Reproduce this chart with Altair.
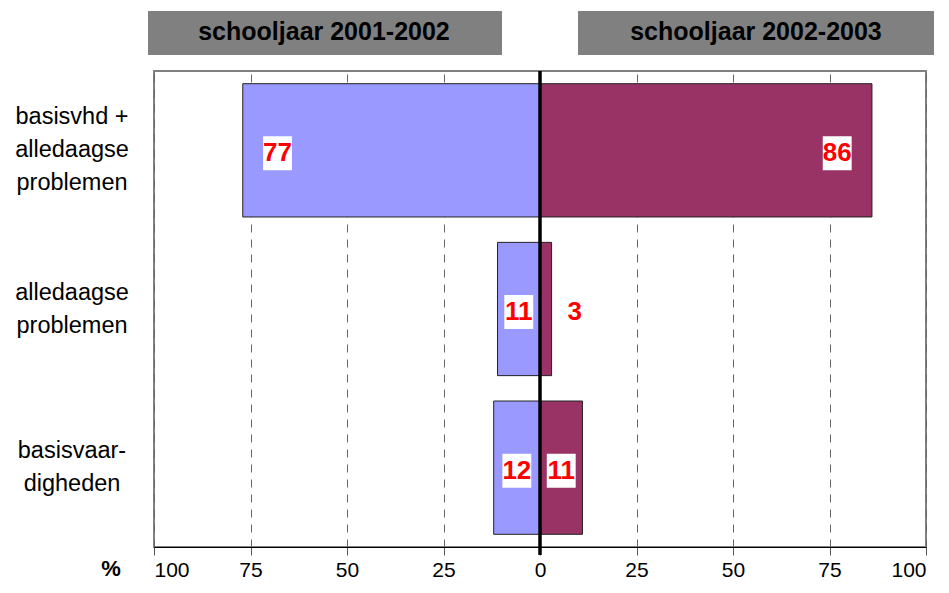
import altair as alt
import pandas as pd

categories = ["basisvhd + alledaagse problemen", "alledaagse problemen", "basisvaardigheden"]
cat_labels = ["basisvhd +|alledaagse|problemen", "alledaagse|problemen", "basisvaar-|digheden"]
years = ["schooljaar 2001-2002", "schooljaar 2002-2003"]
values_2001 = [77, 11, 12]
values_2002 = [86, 3, 11]
tick_values = [-100, -75, -50, -25, 0, 25, 50, 75, 100]
colors = ["#9999FF", "#993366"]

rows = []
for c, lab, v in zip(categories, cat_labels, values_2001):
    rows.append({"cat": c, "lab": lab, "year": years[0], "value": v, "sign": -1})
for c, lab, v in zip(categories, cat_labels, values_2002):
    rows.append({"cat": c, "lab": lab, "year": years[1], "value": v, "sign": 1})
df = pd.DataFrame(rows)

W, H = 772, 476
FONT = "Liberation Sans, Arial, sans-serif"
LINE_H = 33

xscale = alt.Scale(domain=[-100, 100], nice=False, zero=False)
yscale = alt.Scale(domain=categories, paddingInner=0.16, paddingOuter=0.08)

base = alt.Chart(df).transform_calculate(
    xs="datum.sign * datum.value",
    pos="datum.sign * (datum.value > 20 ? datum.value - 9 : (datum.value < 5 ? datum.value + 6 : datum.value / 2))",
)

bars = base.mark_bar(stroke="#222222", strokeWidth=1).encode(
    x=alt.X("xs:Q", scale=xscale,
            axis=alt.Axis(values=tick_values, labelExpr="abs(datum.value)",
                          title=None, grid=True, gridDash=[8, 7], gridColor="#666666",
                          gridWidth=1, domainColor="#000000", domainWidth=1.2,
                          tickColor="#555555", tickSize=8, tickWidth=1,
                          labelFont=FONT, labelFontSize=21,
                          labelColor="#000000", labelPadding=4)),
    x2=alt.datum(0),
    y=alt.Y("cat:N", scale=yscale, sort=categories, axis=None),
    color=alt.Color("year:N", scale=alt.Scale(domain=years, range=colors), legend=None),
)

boxes = base.mark_point(
    shape="M-0.85,-1H0.85V1H-0.85Z", filled=True, fill="white", stroke=None,
    opacity=1, size=1156, yOffset=3,
).encode(
    x=alt.X("pos:Q", scale=xscale),
    y=alt.Y("cat:N", scale=yscale, sort=categories),
)

labels = base.mark_text(
    font=FONT, fontWeight="bold", fontSize=26, color="#FF0000",
    baseline="middle", align="center", dy=3,
).encode(
    x=alt.X("pos:Q", scale=xscale),
    y=alt.Y("cat:N", scale=yscale, sort=categories),
    text="value:Q",
)

cat_df = pd.DataFrame({"cat": categories, "lab": cat_labels})
cat_df["nlines"] = cat_df["lab"].str.count(r"\|") + 1


def cat_layer(n):
    return alt.Chart(cat_df).transform_filter(alt.datum.nlines == n).mark_text(
        font=FONT, fontSize=23.5, color="#000000", align="center",
        baseline="middle", lineBreak="|", lineHeight=LINE_H,
        dy=-(n - 1) * LINE_H / 2,
    ).encode(
        x=alt.value(-82),
        y=alt.Y("cat:N", scale=yscale, sort=categories),
        text="lab:N",
    )


cat_text3 = cat_layer(3)
cat_text2 = cat_layer(2)

zero = alt.Chart(pd.DataFrame({"z": [0]})).mark_rule(color="#000000", strokeWidth=3.5).encode(
    x=alt.X("z:Q", scale=xscale), y=alt.value(0), y2=alt.value(H + 8)
)

hdr_df = pd.DataFrame({"year": years})
hdr_boxes = alt.Chart(hdr_df).mark_rect(color="#808080").encode(
    x=alt.value(-6), x2=alt.value(348), y=alt.value(-60), y2=alt.value(-16)
).transform_filter(alt.datum.year == years[0])
hdr_boxes2 = alt.Chart(hdr_df).mark_rect(color="#808080").encode(
    x=alt.value(424), x2=alt.value(780), y=alt.value(-60), y2=alt.value(-16)
).transform_filter(alt.datum.year == years[1])
hdr_text1 = alt.Chart(hdr_df).mark_text(
    font=FONT, fontWeight="bold", fontSize=25, color="#000000",
    align="center", baseline="middle",
).encode(x=alt.value(170), y=alt.value(-39), text="year:N").transform_filter(alt.datum.year == years[0])
hdr_text2 = alt.Chart(hdr_df).mark_text(
    font=FONT, fontWeight="bold", fontSize=25, color="#000000",
    align="center", baseline="middle",
).encode(x=alt.value(602), y=alt.value(-39), text="year:N").transform_filter(alt.datum.year == years[1])

pct = alt.Chart(pd.DataFrame({"t": ["%"]})).mark_text(
    font=FONT, fontWeight="bold", fontSize=22, color="#000000",
    align="center", baseline="middle",
).encode(x=alt.value(-43), y=alt.value(H + 22), text="t:N")

chart = alt.layer(
    bars, zero, boxes, labels, cat_text3, cat_text2,
    hdr_boxes, hdr_boxes2, hdr_text1, hdr_text2, pct
).properties(
    width=W, height=H,
    autosize=alt.AutoSizeParams(type="none"),
    padding={"left": 146, "top": 63, "right": 12, "bottom": 38},
).configure_view(
    stroke="#808080", strokeWidth=2
)

chart.save("out.html", embed_options={"renderer": "svg", "actions": False})
